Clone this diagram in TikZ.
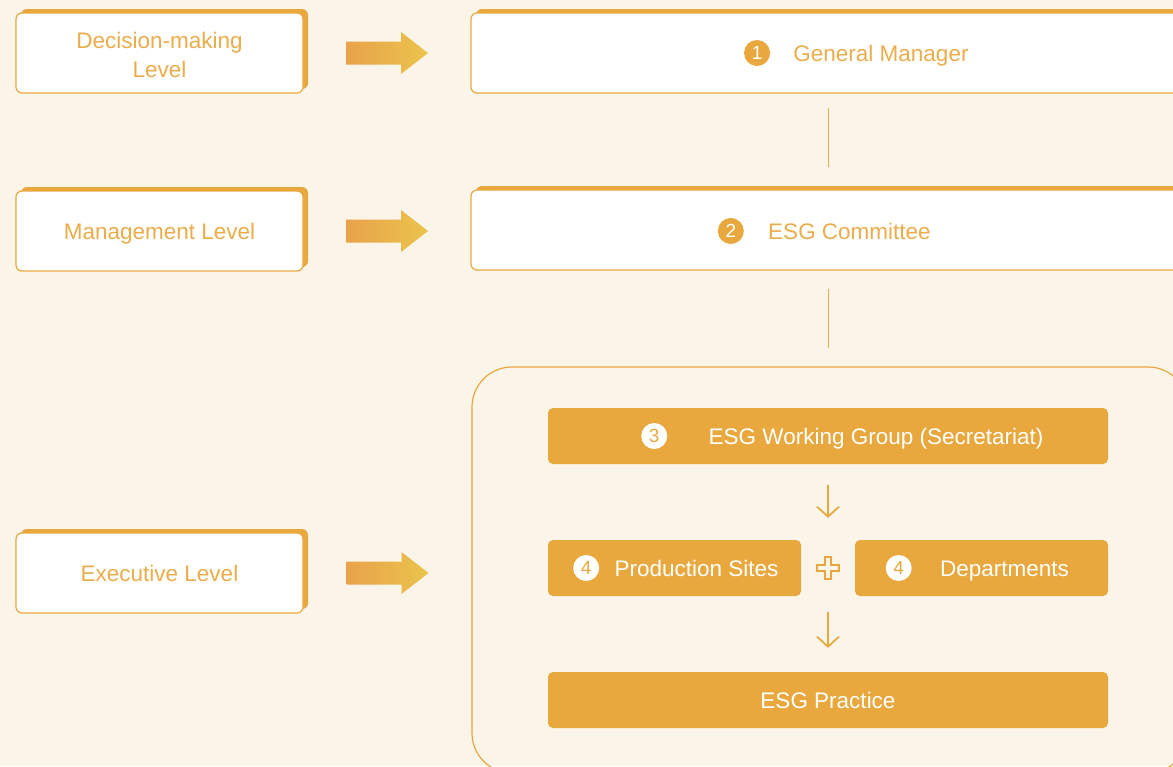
\documentclass[tikz,border=0pt]{standalone}
\usepackage{fontspec}
\setmainfont{Liberation Sans}
\usetikzlibrary{arrows.meta,calc,positioning,shadows}
\definecolor{esgbg}{HTML}{FBF4E9}
\definecolor{esgorange}{HTML}{E8A83E}
\definecolor{esgtext}{HTML}{EBAD4C}
\definecolor{arrowL}{HTML}{E9A24B}
\definecolor{arrowR}{HTML}{EAC44C}
\tikzset{lvlbox/.style={draw=esgorange,fill=white,line width=1.2pt,rounded corners=6pt,
    minimum width=287pt,minimum height=80pt,align=center,text=esgtext,
    text height=16pt,text depth=0pt,
    general shadow={fill=esgorange,shadow xshift=5pt,shadow yshift=4pt}},
  topbox/.style={lvlbox,minimum width=714pt},
  solidbox/.style={fill=esgorange,rounded corners=5pt,minimum height=56pt,text=white,
    text height=16pt,text depth=0pt},
  lbl/.style={inner sep=0pt,text height=16pt,text depth=0pt},
  numfill/.style={circle,fill=esgorange,text=white,inner sep=0pt,minimum size=26pt,font=\fontsize{19}{19}\selectfont},
  numwhite/.style={numfill,fill=white,text=esgorange},
  vline/.style={draw=esgtext,line width=1pt},
  downarr/.style={draw=esgorange,line width=1.7pt,-{Straight Barb[length=10pt,width=22pt]}},
  fatarr/.style={left color=arrowL,right color=arrowR}}

\begin{document}
\begin{tikzpicture}[x=1pt,y=-1pt,font=\fontsize{22.5}{29}\selectfont]
\useasboundingbox (0,0) rectangle (1173,766);
\fill[esgbg] (0,0) rectangle (1173,766);
\clip (0,0) rectangle (1173,766);
% levels
\node[lvlbox,text height=48pt,text depth=0pt] (dm) at (159.5,53) {Decision-making\\Level};
\node[lvlbox] (ml) at (159.5,231) {Management Level};
\node[lvlbox] (el) at (159.5,573) {Executive Level};
% top boxes
\node[topbox] (gm) at (828,53) {};
\node[lbl,text=esgtext] (gmt) at (881,53) {General Manager};
\node[numfill,left=23pt of gmt] (n1) {1};
\node[topbox] (cm) at (828,230) {};
\node[lbl,text=esgtext] (cmt) at (849.5,231) {ESG Committee};
\node[numfill,left=24pt of cmt] (n2) {2};
% executive frame
\node[draw=esgorange,line width=1.2pt,rounded corners=40pt,minimum width=716pt,minimum height=406pt] (big) at (830,570) {};
\node[solidbox,minimum width=560pt] (wg) at (828,436) {};
\node[lbl,text=white] (wgt) at (876,436) {ESG Working Group (Secretariat)};
\node[numwhite,left=41pt of wgt] (n3) {3};
\node[solidbox,minimum width=253pt] (prod) at (674.5,568) {};
\node[lbl,text=white] (prodt) at (696.5,568) {Production Sites};
\node[numwhite,left=15pt of prodt] (n4a) {4};
\node[solidbox,minimum width=253pt] (dept) at (981.5,568) {};
\node[lbl,text=white] (deptt) at (1004.5,568) {Departments};
\node[numwhite,left=28pt of deptt] (n4b) {4};
\node[solidbox,minimum width=560pt] (prac) at (828,700) {ESG Practice};
% plus sign
\coordinate (plus) at ($(prod.east)!0.5!(dept.west)$);
\draw[esgorange,line width=1.4pt] ($(plus)+(-3,-11)$) -- ++(6,0) -- ++(0,8) -- ++(8,0) -- ++(0,6) -- ++(-8,0)
  -- ++(0,8) -- ++(-6,0) -- ++(0,-8) -- ++(-8,0) -- ++(0,-6) -- ++(8,0) -- cycle;
% connectors
\draw[vline,shorten <=14pt,shorten >=22pt] (gm.south) -- (cm.north);
\draw[vline,shorten <=18pt,shorten >=18pt] (cm.south) -- (cm.south |- big.north);
\draw[downarr,shorten <=21pt,shorten >=22pt] (wg.south) -- (wg.south |- prod.north);
\draw[downarr,shorten <=16pt,shorten >=24pt] (plus |- prod.south) -- (prac.north);
\foreach \a/\b in {dm/gm,ml/cm,el/big}{
  \coordinate (m) at ($(\a.east)!0.5!(\a.east -| \b.west)$);
  \shade[fatarr] ($(m)+(-41,-11.5)$) -- ($(m)+(14,-11.5)$) -- ($(m)+(14,-21)$) -- ($(m)+(41,0)$)
    -- ($(m)+(14,21)$) -- ($(m)+(14,11.5)$) -- ($(m)+(-41,11.5)$) -- cycle;
}
\end{tikzpicture}
\end{document}
